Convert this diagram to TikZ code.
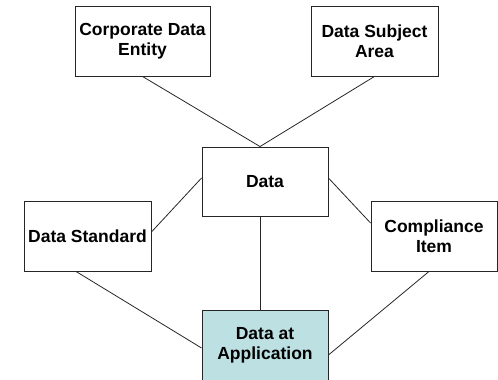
\documentclass[tikz,border=0pt]{standalone}
\usepackage{fontspec}
\setmainfont{Liberation Sans}
\begin{document}
\begin{tikzpicture}[x=1pt,y=-1pt,
  entity/.style={draw=black!85, line width=0.9pt, fill=white, align=center,
    inner sep=0pt, font=\fontsize{17.5}{20}\selectfont\bfseries},
  link/.style={draw=black!85, line width=0.8pt}]
\useasboundingbox (0,0) rectangle (498,380);
\definecolor{appfill}{RGB}{189,224,227}

% entity boxes
\node[entity, minimum width=135, minimum height=70] (corp) at (142.5,41) {Corporate Data\\Entity};
\node[entity, minimum width=127, minimum height=70] (subj) at (374.5,41) {Data Subject\\Area};
\node[entity, minimum width=126, minimum height=69] (data) at (265,181.5) {Data};
\node[entity, minimum width=127, minimum height=70] (std)  at (87.5,236) {Data Standard};
\node[entity, minimum width=126, minimum height=70] (comp) at (434,236) {Compliance\\Item};
\node[entity, fill=appfill, minimum width=126, minimum height=71] (app) at (265,345.5) {Data at\\Application};

% attachment points on the box borders
\coordinate (dtop)   at ([xshift=-5pt]data.north);
\coordinate (dbot)   at ([xshift=-5pt]data.south);
\coordinate (dleft)  at ([yshift=3.5pt]data.west);
\coordinate (dright) at ([yshift=3.5pt]data.east);
\coordinate (atop)   at ([xshift=-5pt]app.north);
\coordinate (aleft)  at ([yshift=-2.5pt]app.west);
\coordinate (aright) at ([yshift=-9.5pt]app.east);
\coordinate (sright) at ([yshift=4pt]std.east);
\coordinate (sbot)   at ([xshift=-11.5pt]std.south);
\coordinate (cleft)  at ([yshift=13pt]comp.west);
\coordinate (cbot)   at ([xshift=-5pt]comp.south);

% connectors
\draw[link] (corp.south) -- (dtop);
\draw[link] (subj.south) -- (dtop);
\draw[link] (sright) -- (dleft);
\draw[link] (dright) -- (cleft);
\draw[link] (dbot) -- (atop);
\draw[link] (sbot) -- (aleft);
\draw[link] (cbot) -- (aright);
\end{tikzpicture}
\end{document}
